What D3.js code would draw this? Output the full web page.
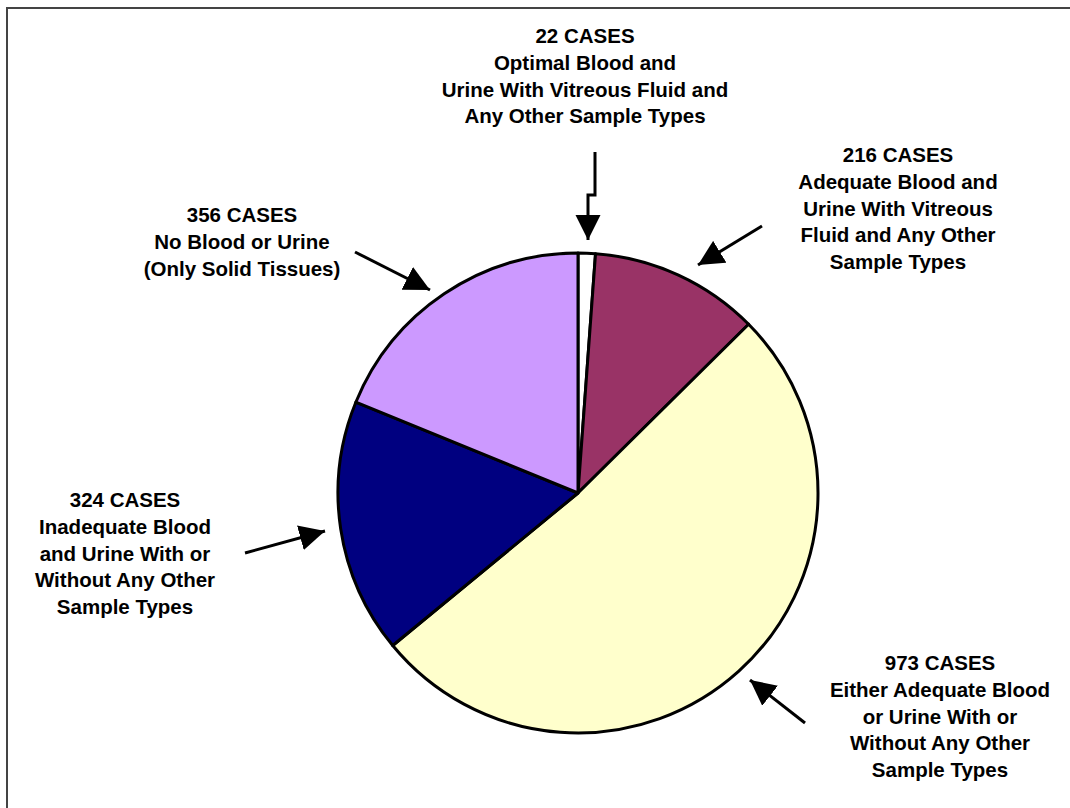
<!DOCTYPE html>
<html><head><meta charset="utf-8">
<script src="https://cdn.jsdelivr.net/npm/d3@7"></script>
<style>body{margin:0;background:#fff}svg{display:block}</style>
</head><body>
<svg id="c" width="1070" height="808"></svg>
<script>
const categories = ["Optimal Blood and Urine With Vitreous Fluid and Any Other Sample Types",
  "Adequate Blood and Urine With Vitreous Fluid and Any Other Sample Types",
  "Either Adequate Blood or Urine With or Without Any Other Sample Types",
  "Inadequate Blood and Urine With or Without Any Other Sample Types",
  "No Blood or Urine (Only Solid Tissues)"];
const cases = [22, 216, 973, 324, 356];
const colors = ["#ffffff", "#993366", "#ffffcc", "#000080", "#cc99ff"];
const labelLines = [
  ["22 CASES", "Optimal Blood and", "Urine With Vitreous Fluid and", "Any Other Sample Types"],
  ["216 CASES", "Adequate Blood and", "Urine With Vitreous", "Fluid and Any Other", "Sample Types"],
  ["973 CASES", "Either Adequate Blood", "or Urine With or", "Without Any Other", "Sample Types"],
  ["324 CASES", "Inadequate Blood", "and Urine With or", "Without Any Other", "Sample Types"],
  ["356 CASES", "No Blood or Urine", "(Only Solid Tissues)"]
];
// label anchor (center x, first-line baseline y), arrow paths
const labelPos = [[585, 43], [898, 162], [940, 670], [125, 507], [242, 222]];
const arrowPaths = [
  [[595,152],[595,195],[588,195],[588,240]],
  [[762,226],[698,265]],
  [[805,723],[750,680]],
  [[245,553],[325,531]],
  [[355,252],[430,290]]
];

const svg = d3.select("#c");
// frame
svg.append("path").attr("d","M7,808 V8 H1070").attr("fill","none").attr("stroke","#444").attr("stroke-width",2);

const cx = 578, cy = 493, R = 240;
const pie = d3.pie().sort(null).value(d => d)(cases);
const arc = d3.arc().innerRadius(0).outerRadius(R);
const g = svg.append("g").attr("transform", `translate(${cx},${cy})`);
g.selectAll("path").data(pie).join("path")
  .attr("d", arc).attr("fill", (d,i) => colors[i])
  .attr("stroke", "#000").attr("stroke-width", 3).attr("stroke-linejoin","round");

// arrows
const defs = svg.append("defs");
defs.append("marker").attr("id","ah").attr("viewBox","0 0 10 10").attr("refX",10).attr("refY",5)
  .attr("markerWidth",8.5).attr("markerHeight",8.5).attr("markerUnits","strokeWidth").attr("orient","auto")
  .append("path").attr("d","M0,0 L10,5 L0,10 Z").attr("fill","#000");
const line = d3.line();
arrowPaths.forEach(p => {
  svg.append("path").attr("d", line(p)).attr("fill","none").attr("stroke","#000")
    .attr("stroke-width",3).attr("marker-end","url(#ah)");
});

// labels
labelLines.forEach((lines, i) => {
  const t = svg.append("text").attr("text-anchor","middle")
    .attr("font-family","Liberation Sans, Arial, Helvetica, sans-serif")
    .attr("font-weight","bold").attr("font-size",20.5).attr("fill","#000");
  lines.forEach((s, j) => {
    t.append("tspan").attr("x", labelPos[i][0]).attr("y", labelPos[i][1] + j*26.8).text(s);
  });
});
</script>
</body></html>
